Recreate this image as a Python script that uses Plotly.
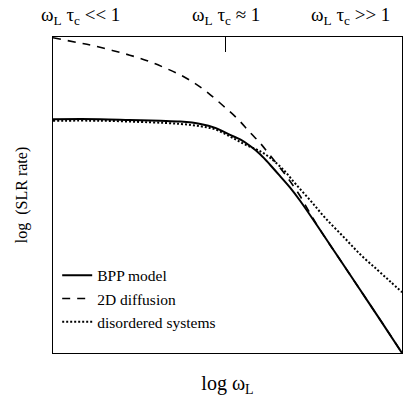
import plotly.graph_objects as go

# Schematic spectral-density curves: log(SLR rate) versus log(omega_L * tau_c)
# x: log(omega_L tau_c), y: log(SLR rate), both in arbitrary decades

bpp_x = [-1.98, -1.44, -1.10, -0.75, -0.52, -0.29, -0.12, 0.05, 0.17, 0.28,
         0.40, 0.51, 0.63, 0.74, 0.85, 1.08, 1.31, 1.54, 1.77, 2.02]
bpp_y = [2.96, 2.96, 2.95, 2.94, 2.93, 2.90, 2.85, 2.76, 2.70, 2.62,
         2.51, 2.38, 2.23, 2.09, 1.93, 1.56, 1.18, 0.80, 0.42, 0.00]

diff2d_x = [-1.98, -1.70, -1.52, -1.30, -1.10, -0.90, -0.72, -0.52, -0.35, -0.20,
            -0.03, 0.13, 0.28, 0.40, 0.51, 0.66, 0.74, 0.85, 0.97, 1.08,
            1.31, 1.54, 1.77, 2.02]
diff2d_y = [3.99, 3.93, 3.89, 3.83, 3.77, 3.70, 3.62, 3.52, 3.41, 3.29,
            3.13, 2.97, 2.79, 2.65, 2.50, 2.29, 2.17, 1.99, 1.76, 1.56,
            1.18, 0.80, 0.42, 0.00]

disorder_x = [-1.98, -1.44, -0.87, -0.52, -0.29, -0.12, 0.05, 0.22, 0.40, 0.51,
              0.66, 0.80, 0.97, 1.14, 1.35, 1.54, 1.74, 1.89, 2.02]
disorder_y = [2.94, 2.94, 2.92, 2.90, 2.87, 2.83, 2.74, 2.64, 2.55, 2.47,
              2.32, 2.14, 1.93, 1.71, 1.47, 1.25, 1.05, 0.90, 0.77]

regime_x = [-1.67, 0.0, 1.43]
regime_labels = ["ω<sub>L</sub> τ<sub>c</sub> << 1",
                 "ω<sub>L</sub> τ<sub>c</sub> ≈ 1",
                 "ω<sub>L</sub> τ<sub>c</sub> >> 1"]

X_RANGE = [-1.98, 2.02]
Y_RANGE = [0, 4]
FONT = "Liberation Serif, Times New Roman, serif"

fig = go.Figure()
fig.add_trace(go.Scatter(x=bpp_x, y=bpp_y, mode="lines", name="BPP model",
                         line=dict(color="black", width=2, shape="spline")))
fig.add_trace(go.Scatter(x=diff2d_x, y=diff2d_y, mode="lines", name="2D diffusion",
                         line=dict(color="black", width=1.6, shape="spline",
                                   dash="8px,7px")))
fig.add_trace(go.Scatter(x=disorder_x, y=disorder_y, mode="lines",
                         name="disordered systems",
                         line=dict(color="black", width=2, shape="spline",
                                   dash="2px,2px")))

# invisible trace carrying the top axis with its single tick at omega_L tau_c = 1
fig.add_trace(go.Scatter(x=[0], y=[0], xaxis="x2", mode="markers",
                         marker=dict(opacity=0), showlegend=False,
                         hoverinfo="skip"))

for xv, txt in zip(regime_x, regime_labels):
    fig.add_annotation(x=xv, y=1, xref="x", yref="paper", text=txt,
                       showarrow=False, yanchor="bottom", yshift=7,
                       font=dict(family=FONT, size=19, color="black"))

fig.update_layout(
    width=408, height=403,
    margin=dict(l=53, r=6, t=37, b=50),
    paper_bgcolor="white", plot_bgcolor="white",
    font=dict(family=FONT, size=15, color="black"),
    showlegend=True,
    legend=dict(x=0.012, y=0.045, xanchor="left", yanchor="bottom",
                bgcolor="rgba(0,0,0,0)", borderwidth=0,
                font=dict(family=FONT, size=15.5, color="black"),
                tracegroupgap=0),
    xaxis=dict(range=X_RANGE, showgrid=False, zeroline=False,
               showticklabels=False, ticks="", showline=True,
               linecolor="black", linewidth=1, mirror=True,
               title=dict(text="log ω<sub>L</sub>", standoff=22,
                          font=dict(family=FONT, size=20))),
    xaxis2=dict(range=X_RANGE, overlaying="x", side="top",
                showgrid=False, zeroline=False, showticklabels=False,
                tickvals=[0], ticks="inside", ticklen=15, tickwidth=1,
                tickcolor="black", showline=False),
    yaxis=dict(range=Y_RANGE, showgrid=False, zeroline=False,
               showticklabels=False, ticks="", showline=True,
               linecolor="black", linewidth=1, mirror=True,
               title=dict(text="log  (SLR rate)", standoff=20,
                          font=dict(family=FONT, size=16))),
)

fig.write_html("out.html")
